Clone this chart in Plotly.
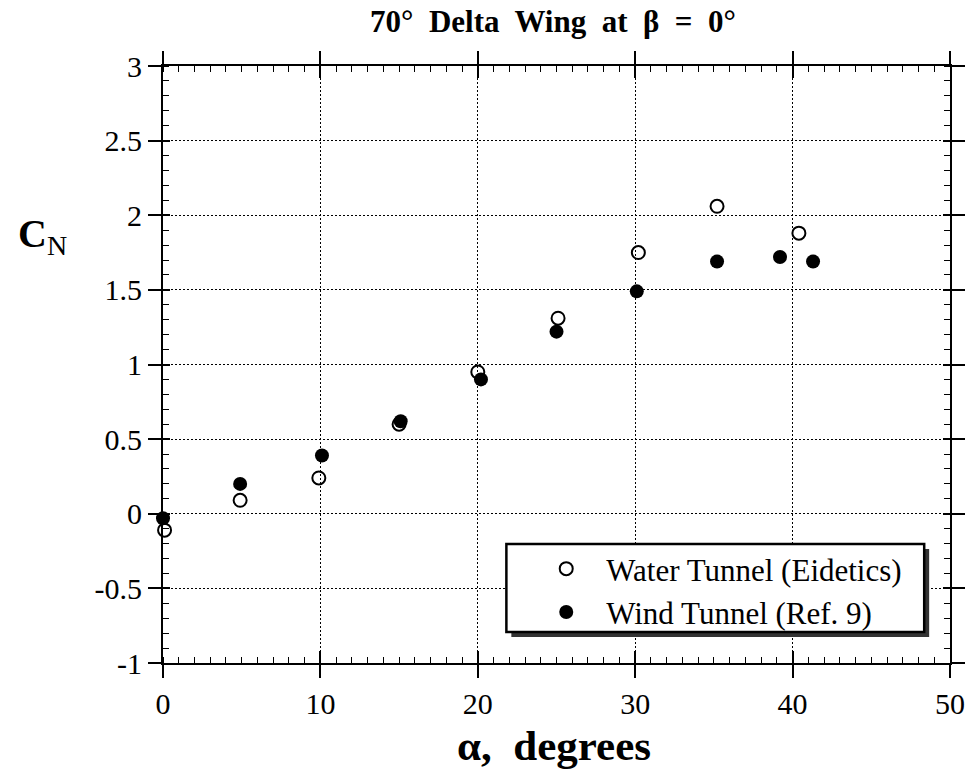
import plotly.graph_objects as go

# Data
water_alpha = [0.1, 4.9, 9.9, 15.0, 20.0, 25.1, 30.2, 35.2, 40.4]
water_cn = [-0.11, 0.09, 0.24, 0.60, 0.95, 1.31, 1.75, 2.06, 1.88]

wind_alpha = [0.0, 4.9, 10.1, 15.1, 20.2, 25.0, 30.1, 35.2, 39.2, 41.3]
wind_cn = [-0.03, 0.20, 0.39, 0.62, 0.90, 1.22, 1.49, 1.69, 1.72, 1.69]

x_ticks = [0, 10, 20, 30, 40, 50]
y_ticks = [-1, -0.5, 0, 0.5, 1, 1.5, 2, 2.5, 3]
y_labels = ["-1", "-0.5", "0", "0.5", "1", "1.5", "2", "2.5", "3"]

FONT = "Liberation Serif"
W, H = 977, 776
L, R, T, B = 163, 21, 66, 113
PW, PH = W - L - R, H - T - B


def px(xp):
    return (xp - L) / PW


def py(yp):
    return (H - B - yp) / PH


fig = go.Figure()
fig.add_trace(go.Scatter(
    x=water_alpha, y=water_cn, mode="markers", name="Water Tunnel (Eidetics)",
    marker=dict(symbol="circle-open", size=13, color="black", line=dict(width=2, color="black")),
    cliponaxis=False,
))
fig.add_trace(go.Scatter(
    x=wind_alpha, y=wind_cn, mode="markers", name="Wind Tunnel (Ref. 9)",
    marker=dict(symbol="circle", size=14, color="black"),
    cliponaxis=False,
))

common = dict(showline=True, linecolor="black", linewidth=2, zeroline=False,
              tickcolor="black", tickwidth=1.5)
GRIDDASH = "1.5px,2.5px"

fig.update_layout(
    width=W, height=H, margin=dict(l=L, r=R, t=T, b=B),
    paper_bgcolor="white", plot_bgcolor="white",
    font=dict(family=FONT, color="black", size=29),
    showlegend=True,
    xaxis=dict(range=[0, 50], tickvals=x_ticks, ticks="outside", ticklen=13,
               mirror="ticks", showgrid=True, gridcolor="black", griddash=GRIDDASH, gridwidth=1.3,
               tickfont=dict(size=30, family=FONT, color="black"),
               minor=dict(ticks="inside", ticklen=6, dtick=1, tickcolor="black", tickwidth=1, showgrid=False),
               **common),
    yaxis=dict(range=[-1, 3], tickvals=y_ticks, ticktext=y_labels, ticks="outside", ticklen=13,
               mirror="ticks", showgrid=True, gridcolor="black", griddash=GRIDDASH, gridwidth=1.3,
               tickfont=dict(size=30, family=FONT, color="black"),
               minor=dict(ticks="inside", ticklen=6, dtick=0.1, tickcolor="black", tickwidth=1, showgrid=False),
               **common),
    xaxis2=dict(range=[0, 50], overlaying="x", matches="x", anchor="y", side="bottom",
                tickvals=x_ticks, ticks="inside", ticklen=12, mirror="ticks", showticklabels=False,
                showgrid=False, showline=False, zeroline=False, tickcolor="black", tickwidth=1.5),
    yaxis2=dict(range=[-1, 3], overlaying="y", matches="y", anchor="x", side="left",
                tickvals=y_ticks, ticks="inside", ticklen=7, mirror="ticks", showticklabels=False,
                showgrid=False, showline=False, zeroline=False, tickcolor="black", tickwidth=1.5),
    legend=dict(x=px(529), y=py(542), xanchor="left", yanchor="top",
                bgcolor="rgba(0,0,0,0)", borderwidth=0,
                font=dict(size=31, family=FONT, color="black"), itemwidth=70, tracegroupgap=0),
)

# dummy trace to activate the overlaid axes
fig.add_trace(go.Scatter(x=[None], y=[None], xaxis="x2", yaxis="y2", showlegend=False, hoverinfo="skip"))

# legend frame with shadow
fig.add_shape(type="rect", xref="paper", yref="paper",
              x0=px(514), x1=px(935), y0=py(549), y1=py(637),
              fillcolor="#333", line=dict(width=0), layer="above")
fig.add_shape(type="rect", xref="paper", yref="paper",
              x0=px(509), x1=px(930), y0=py(544), y1=py(632),
              fillcolor="white", line=dict(width=2.5, color="black"), layer="above")

fig.add_annotation(text="<b>70°  Delta  Wing  at  β  =  0°</b>", xref="paper", yref="paper",
                   x=px(556), y=py(21), showarrow=False, font=dict(size=31, family=FONT, color="black"),
                   xanchor="center", yanchor="middle")
fig.add_annotation(text="<b>α,  degrees</b>", xref="paper", yref="paper",
                   x=px(557), y=py(745), showarrow=False, font=dict(size=43, family=FONT, color="black"),
                   xanchor="center", yanchor="middle")
fig.add_annotation(text="<b>C</b><sub>N</sub>", xref="paper", yref="paper",
                   x=px(42), y=py(236), showarrow=False, font=dict(size=40, family=FONT, color="black"),
                   xanchor="center", yanchor="middle")

fig.write_html("out.html")
